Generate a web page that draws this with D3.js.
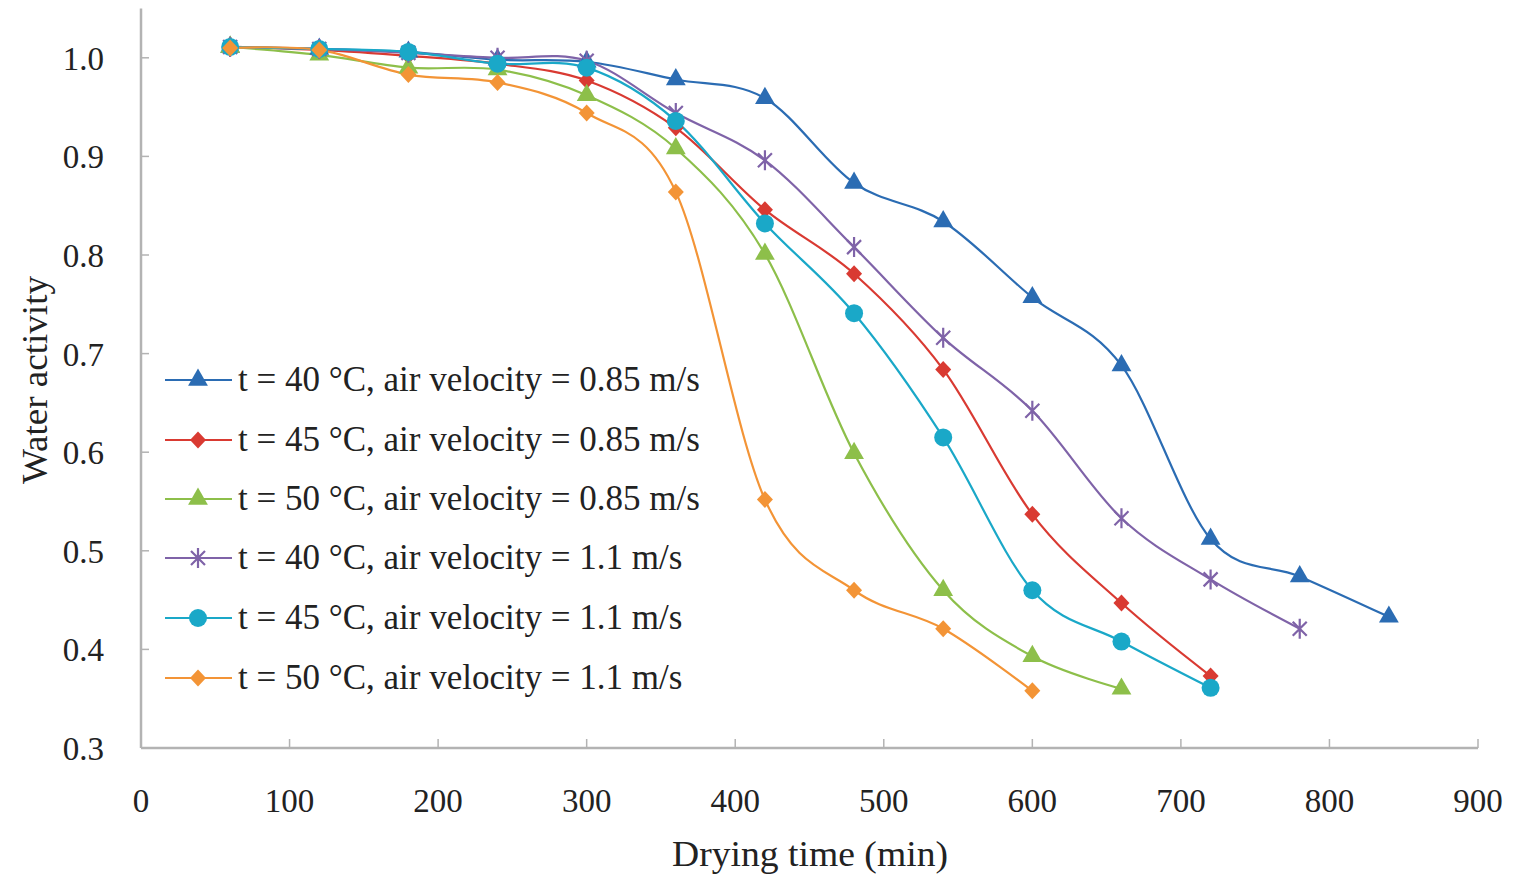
<!DOCTYPE html>
<html>
<head>
<meta charset="utf-8">
<script src="https://cdn.jsdelivr.net/npm/d3@7"></script>
<style>
  body { margin: 0; background: #fff; }
  svg text { font-family: "Liberation Serif", "DejaVu Serif", serif; fill: #222; }
</style>
</head>
<body>
<div id="holder"></div>
<script>
const w = 1514;
const h = 877;

// DATA
const times = [60, 120, 180, 240, 300, 360, 420, 480, 540, 600, 660, 720, 780, 840];
const seriesNames = [
    "t = 40 °C, air velocity = 0.85 m/s",
    "t = 45 °C, air velocity = 0.85 m/s",
    "t = 50 °C, air velocity = 0.85 m/s",
    "t = 40 °C, air velocity = 1.1 m/s",
    "t = 45 °C, air velocity = 1.1 m/s",
    "t = 50 °C, air velocity = 1.1 m/s"
];
const aw40_085 = [1.011, 1.009, 1.006, 0.998, 0.996, 0.978, 0.959, 0.873, 0.834, 0.757, 0.688, 0.512, 0.474, 0.433];
const aw45_085 = [1.011, 1.008, 1.002, 0.994, 0.977, 0.929, 0.846, 0.781, 0.684, 0.537, 0.447, 0.373];
const aw50_085 = [1.011, 1.003, 0.990, 0.988, 0.962, 0.908, 0.801, 0.599, 0.460, 0.393, 0.360];
const aw40_11 = [1.011, 1.009, 1.005, 1.000, 0.997, 0.944, 0.896, 0.808, 0.716, 0.642, 0.533, 0.471, 0.421];
const aw45_11 = [1.011, 1.009, 1.006, 0.994, 0.990, 0.936, 0.832, 0.741, 0.615, 0.460, 0.408, 0.361];
const aw50_11 = [1.010, 1.008, 0.983, 0.975, 0.944, 0.864, 0.552, 0.460, 0.421, 0.358];
const xTicks = [0, 100, 200, 300, 400, 500, 600, 700, 800, 900];
const yTicks = [0.3, 0.4, 0.5, 0.6, 0.7, 0.8, 0.9, 1.0];

const colors = ["#2b6cb3", "#d93a32", "#8dbf4a", "#7f63a8", "#1aa8c8", "#f39436"];
const markers = ["triangle", "diamond", "triangle", "star", "circle", "diamond"];
const allSeries = [aw40_085, aw45_085, aw50_085, aw40_11, aw45_11, aw50_11];

// CREATE SVG
const svg = d3.select("#holder")
    .append("svg")
    .attr("width", w)
    .attr("height", h);

// SCALES
const xScale = d3.scaleLinear().domain([0, 900]).range([141, 1478]);
const yScale = d3.scaleLinear().domain([0.3, 1.05]).range([748, 8.5]);

// AXES
const axisColor = "#b3b3b3";
svg.append("line")
    .attr("x1", xScale(0)).attr("x2", xScale(0))
    .attr("y1", yScale(1.05)).attr("y2", yScale(0.3))
    .attr("stroke", axisColor).attr("stroke-width", 2.5);
svg.append("line")
    .attr("x1", xScale(0)).attr("x2", xScale(900))
    .attr("y1", yScale(0.3)).attr("y2", yScale(0.3))
    .attr("stroke", axisColor).attr("stroke-width", 2.5);

svg.selectAll(".xtick")
    .data(xTicks)
    .enter()
    .append("line")
    .attr("x1", d => xScale(d)).attr("x2", d => xScale(d))
    .attr("y1", yScale(0.3)).attr("y2", yScale(0.3) - 9)
    .attr("stroke", axisColor).attr("stroke-width", 1.5);

svg.selectAll(".xlabel")
    .data(xTicks)
    .enter()
    .append("text")
    .attr("x", d => xScale(d))
    .attr("y", 812)
    .attr("text-anchor", "middle")
    .style("font-size", "33px")
    .text(d => d);

svg.selectAll(".ytick")
    .data(yTicks)
    .enter()
    .append("line")
    .attr("x1", xScale(0)).attr("x2", xScale(0) + 8)
    .attr("y1", d => yScale(d)).attr("y2", d => yScale(d))
    .attr("stroke", axisColor).attr("stroke-width", 1.5);

svg.selectAll(".ylabel")
    .data(yTicks)
    .enter()
    .append("text")
    .attr("x", 104)
    .attr("y", d => yScale(d) + 12)
    .attr("text-anchor", "end")
    .style("font-size", "33px")
    .text(d => d3.format(".1f")(d));

svg.append("text")
    .attr("transform", "translate(47,380) rotate(-90)")
    .attr("text-anchor", "middle")
    .style("font-size", "35px")
    .attr("textLength", 208)
    .attr("lengthAdjust", "spacingAndGlyphs")
    .text("Water activity");

svg.append("text")
    .attr("x", 810)
    .attr("y", 866)
    .attr("text-anchor", "middle")
    .style("font-size", "35px")
    .attr("textLength", 276)
    .attr("lengthAdjust", "spacingAndGlyphs")
    .text("Drying time (min)");

// MARKERS
function drawMarker(g, type, color) {
    if (type === "triangle") {
        g.append("path").attr("d", d3.symbol(d3.symbolTriangle, 170)()).attr("fill", color);
    } else if (type === "diamond") {
        g.append("path").attr("d", "M0,-8.5L8,0L0,8.5L-8,0Z").attr("fill", color);
    } else if (type === "circle") {
        g.append("circle").attr("r", 9).attr("fill", color);
    } else if (type === "star") {
        g.append("path")
            .attr("d", "M-7,-7L7,7M-7,7L7,-7M0,-10L0,10")
            .attr("stroke", color).attr("stroke-width", 2.2).attr("fill", "none");
    }
}

// LINES
const line = d3.line()
    .x(d => xScale(d[0]))
    .y(d => yScale(d[1]))
    .curve(d3.curveCatmullRom.alpha(0));

allSeries.forEach((vals, i) => {
    const pts = vals.map((v, j) => [times[j], v]);
    svg.append("path")
        .datum(pts)
        .attr("d", line)
        .attr("fill", "none")
        .attr("stroke", colors[i])
        .attr("stroke-width", 2.2);
});

allSeries.forEach((vals, i) => {
    vals.forEach((v, j) => {
        const g = svg.append("g")
            .attr("transform", `translate(${xScale(times[j])},${yScale(v)})`);
        drawMarker(g, markers[i], colors[i]);
    });
});

// LEGEND
const legendY = [380, 440, 499, 558, 618, 678];
const legendLen = [470, 470, 470, 455, 455, 455];
seriesNames.forEach((name, i) => {
    const y = legendY[i];
    svg.append("line")
        .attr("x1", 165).attr("x2", 232)
        .attr("y1", y).attr("y2", y)
        .attr("stroke", colors[i]).attr("stroke-width", 2.2);
    const g = svg.append("g").attr("transform", `translate(198,${y})`);
    drawMarker(g, markers[i], colors[i]);
    svg.append("text")
        .attr("x", 238)
        .attr("y", y + 11)
        .style("font-size", "35px")
        .text(name);
});
</script>
</body>
</html>
